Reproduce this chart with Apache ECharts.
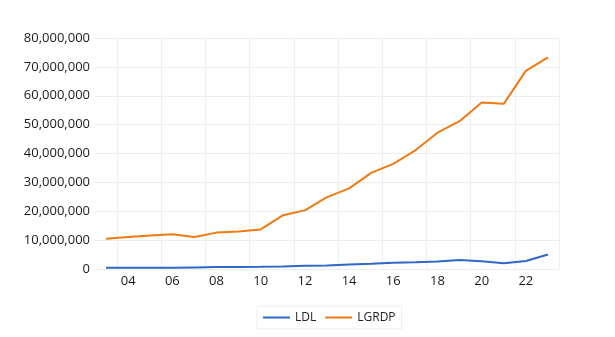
<!DOCTYPE html>
<html>
<head>
<meta charset="utf-8">
<style>
  html, body { margin: 0; padding: 0; background: #fff; }
  #chart { width: 615px; height: 337px; }
</style>
<script src="https://cdn.jsdelivr.net/npm/echarts@6/dist/echarts.min.js"></script>
</head>
<body>
<div id="chart"></div>
<script>
// Years 2003–2023, labelled by two-digit year
const years = ['03','04','05','06','07','08','09','10','11','12','13','14','15','16','17','18','19','20','21','22','23'];

// LDL series
const ldl = [400000, 400000, 400000, 420000, 550000, 650000, 700000, 750000, 900000, 1100000, 1200000,
             1600000, 1800000, 2150000, 2300000, 2600000, 3100000, 2700000, 2000000, 2800000, 5000000];

// LGRDP series
const lgrdp = [10500000, 11100000, 11600000, 12000000, 11100000, 12600000, 13000000, 13700000, 18600000, 20300000, 24900000,
               27900000, 33300000, 36400000, 41100000, 47200000, 51200000, 57700000, 57200000, 68600000, 73300000];

const seriesNames = ['LDL', 'LGRDP'];
const colors = ['#2F67C8', '#F07A12'];

const font = '"Open Sans", "Noto Sans", sans-serif';
const fmt = v => v.toLocaleString('en-US');

const chart = echarts.init(document.getElementById('chart'), null, { renderer: 'canvas' });
chart.setOption({
  animation: false,
  color: colors,
  textStyle: { fontFamily: font },
  grid: { left: 95, right: 56, top: 38, bottom: 68, containLabel: false },
  legend: {
    data: seriesNames,
    icon: 'rect',
    left: 257,
    top: 306,
    itemWidth: 27,
    itemHeight: 2,
    itemGap: 9,
    padding: [5, 6],
    borderColor: '#eeeeee',
    borderWidth: 1,
    textStyle: { fontFamily: font, fontSize: 12, color: '#222', lineHeight: 13 }
  },
  xAxis: {
    type: 'category',
    data: years,
    boundaryGap: true,
    axisLine: { show: true, lineStyle: { color: '#eeeeee' } },
    axisTick: { show: false },
    axisLabel: {
      interval: (i) => i % 2 === 1,
      margin: 6,
      fontFamily: font,
      fontSize: 13,
      color: '#1a1a1a'
    },
    splitLine: {
      show: true,
      interval: (i) => i % 2 === 1,
      lineStyle: { color: '#eeeeee', width: 1 }
    }
  },
  yAxis: {
    type: 'value',
    min: 0,
    max: 80000000,
    interval: 10000000,
    axisLine: { show: false },
    axisTick: { show: false },
    axisLabel: {
      margin: 5,
      fontFamily: font,
      fontSize: 13,
      color: '#1a1a1a',
      formatter: fmt
    },
    splitLine: { lineStyle: { color: '#eeeeee', width: 1 } }
  },
  series: [
    { name: seriesNames[0], type: 'line', data: ldl, symbol: 'none', lineStyle: { width: 2 } },
    { name: seriesNames[1], type: 'line', data: lgrdp, symbol: 'none', lineStyle: { width: 2 } }
  ]
});
</script>
</body>
</html>
